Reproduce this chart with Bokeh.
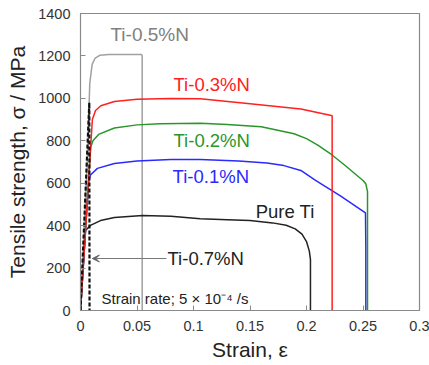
from bokeh.plotting import figure
from bokeh.models import Label, Arrow, VeeHead, Range1d, FixedTicker
from bokeh.embed import file_html
from bokeh.resources import INLINE

# ---- data ----
pure_strain = [0, 0.0044, 0.0088, 0.0177, 0.03, 0.055, 0.08, 0.106, 0.13, 0.15, 0.17, 0.182, 0.19, 0.196, 0.2, 0.2025, 0.2035, 0.2035]
pure_stress = [0, 377, 401, 424, 438, 448, 444, 432, 428, 424, 413, 402, 385, 360, 325, 280, 240, 0]

n01_strain = [0, 0.0073, 0.009, 0.015, 0.03, 0.05, 0.08, 0.106, 0.14, 0.165, 0.18, 0.195, 0.208, 0.23, 0.2522, 0.2525, 0.2525]
n01_stress = [0, 615, 640, 670, 693, 705, 712, 712, 705, 695, 683, 660, 613, 540, 460, 300, 0]

n02_strain = [0, 0.009, 0.011, 0.016, 0.03, 0.05, 0.07, 0.106, 0.13, 0.16, 0.189, 0.2, 0.21, 0.221, 0.235, 0.25, 0.2525, 0.254, 0.254]
n02_stress = [0, 770, 800, 830, 860, 875, 880, 883, 877, 866, 833, 810, 780, 740, 680, 613, 597, 560, 0]

n03_strain = [0, 0.0105, 0.0133, 0.018, 0.03, 0.05, 0.08, 0.106, 0.15, 0.195, 0.221, 0.2227, 0.2227]
n03_stress = [0, 900, 943, 965, 985, 996, 999, 998, 975, 950, 920, 918, 0]

n05_strain = [0, 0.006, 0.0082, 0.0103, 0.013, 0.017, 0.025, 0.054, 0.0546, 0.0546]
n05_stress = [0, 700, 1070, 1160, 1190, 1203, 1207, 1207, 1200, 0]

n07_strain = [0, 0.0078, 0.008]
n07_stress = [0, 980, 0]

x_ticks = [0, 0.05, 0.1, 0.15, 0.2, 0.25, 0.3]
x_tick_labels = ["0", "0.05", "0.1", "0.15", "0.2", "0.25", "0.3"]
y_ticks = [0, 200, 400, 600, 800, 1000, 1200, 1400]

FONT = "Liberation Sans"

p = figure(width=429, height=365, output_backend="svg", toolbar_location=None,
           x_range=Range1d(0, 0.3), y_range=Range1d(0, 1400),
           min_border_left=80, min_border_right=10, min_border_top=13, min_border_bottom=55)
p.grid.visible = False
p.outline_line_color = "#8a8a8a"
p.outline_line_width = 1.2
p.background_fill_color = "white"
p.border_fill_color = "white"

for ax in (p.xaxis[0], p.yaxis[0]):
    ax.major_tick_in = 5
    ax.major_tick_out = 0
    ax.minor_tick_in = 0
    ax.minor_tick_out = 0
    ax.axis_line_color = "#8a8a8a"
    ax.major_tick_line_color = "#8a8a8a"
    ax.major_label_text_font = FONT
    ax.major_label_text_font_size = "14.5px"
    ax.major_label_text_color = "#333333"
    ax.axis_label_text_font = FONT
    ax.axis_label_text_font_size = "21px"
    ax.axis_label_text_font_style = "normal"
    ax.axis_label_text_color = "#222222"

p.xaxis[0].ticker = FixedTicker(ticks=x_ticks)
p.xaxis[0].major_label_overrides = {t: l for t, l in zip(x_ticks, x_tick_labels)}
p.xaxis[0].major_label_standoff = 10
p.xaxis[0].axis_label = "Strain, ε"
p.xaxis[0].axis_label_standoff = 4
p.yaxis[0].ticker = FixedTicker(ticks=y_ticks)
p.yaxis[0].major_label_standoff = 10
p.yaxis[0].axis_label = "Tensile strength, σ / MPa"
p.yaxis[0].axis_label_standoff = 6

lw = 1.5
p.line(n05_strain, n05_stress, color="#a0a0a0", line_width=lw)
p.line(pure_strain, pure_stress, color="#222222", line_width=lw)
p.line(n01_strain, n01_stress, color="#2a2aff", line_width=lw)
p.line(n02_strain, n02_stress, color="#2a962a", line_width=lw)
p.line(n03_strain, n03_stress, color="#ff2020", line_width=lw)
p.line(n07_strain, n07_stress, color="#111111", line_width=2.2, line_dash="4 2")

def lab(x, y, t, c, size="18.5px"):
    p.add_layout(Label(x=x, y=y, text=t, text_color=c, text_font=FONT,
                       text_font_size=size, text_baseline="middle", text_align="left"))

lab(0.0265, 1301, "Ti-0.5%N", "#808080", size="19px")
lab(0.0823, 1066, "Ti-0.3%N", "#ff2020")
lab(0.0823, 801, "Ti-0.2%N", "#2a962a")
lab(0.0815, 632, "Ti-0.1%N", "#2a2aff")
lab(0.155, 467, "Pure Ti", "#222222")
lab(0.077, 245, "Ti-0.7%N", "#222222")
lab(0.0186, 57, "Strain rate; 5 × 10⁻⁴ /s", "#222222", size="15px")

p.add_layout(Arrow(end=VeeHead(size=7, line_color="#666666", fill_color="#666666", line_width=1),
                   x_start=0.076, y_start=245, x_end=0.0105, y_end=245,
                   line_color="#777777", line_width=1))

open("out.html", "w").write(file_html(p, INLINE))
